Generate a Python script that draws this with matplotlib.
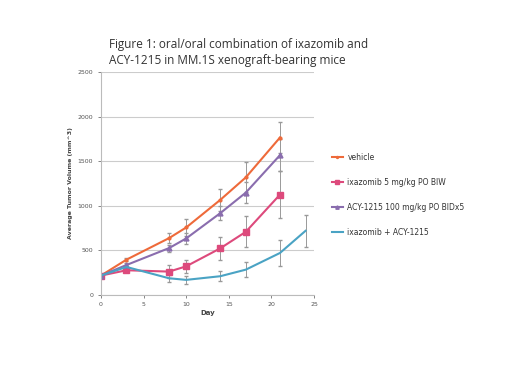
import numpy as np
import matplotlib
matplotlib.use("Agg")
import matplotlib.pyplot as plt

# values (mm^3)
days = [0, 3, 8, 10, 14, 17, 21]
days_combo = [0, 3, 8, 10, 14, 17, 21, 24]

vehicle = [216, 395, 637, 756, 1066, 1319, 1766]
vehicle_err = [15, 20, 60, 90, 120, 170, 170]
ixazomib = [216, 276, 261, 320, 522, 708, 1125]
ixazomib_err = [15, 20, 70, 75, 130, 175, 260]
acy = [216, 335, 525, 633, 917, 1148, 1568]
acy_err = [15, 20, 40, 60, 80, 120, 180]
combo = [216, 313, 186, 168, 209, 283, 470, 719]
combo_err = [15, 20, 40, 45, 55, 85, 145, 180]

labels = ["vehicle", "ixazomib 5 mg/kg PO BIW",
          "ACY-1215 100 mg/kg PO BIDx5", "ixazomib + ACY-1215"]
colors = ["#EE6A3A", "#DD4A7C", "#8A6DAE", "#4AA3C4"]

fig = plt.figure(figsize=(5.2, 3.9), dpi=100)
ax = fig.add_axes([0.194, 0.244, 0.41, 0.571])

series = [(days, vehicle, vehicle_err, "o", 2),
          (days, ixazomib, ixazomib_err, "s", 4),
          (days, acy, acy_err, "^", 3.5),
          (days_combo, combo, combo_err, None, 0)]
handles = []
for (x, y, e, m, ms), lab, c in zip(series, labels, colors):
    eb = ax.errorbar(x, y, yerr=e, color=c, marker=m, markersize=ms, lw=1.5,
                     ecolor="#999999", elinewidth=0.7, capsize=1.5, label=lab)
    handles.append(eb.lines[0])

ax.set_xlim(0, 25)
ax.set_ylim(0, 2500)
ax.set_xticks(range(0, 26, 5))
ax.set_yticks(range(0, 2501, 500))
ax.tick_params(labelsize=4.5, colors="#555555", length=2, width=0.5)
ax.grid(axis="y", color="#cccccc", lw=0.8)
ax.set_axisbelow(True)
for s in ["top", "right"]:
    ax.spines[s].set_visible(False)
for s in ["left", "bottom"]:
    ax.spines[s].set_color("#bbbbbb")
ax.set_xlabel("Day", fontsize=5, fontweight="bold", color="#444444", labelpad=2)
ax.set_ylabel("Average Tumor Volume (mm^3)", fontsize=4.5, fontweight="bold",
              color="#444444", labelpad=3)

fig.text(0.21, 0.835, "Figure 1: oral/oral combination of ixazomib and\n"
         "ACY-1215 in MM.1S xenograft-bearing mice",
         fontsize=8.5, color="#333333", family="Open Sans", linespacing=1.3)

ax.legend(handles, labels, loc="center left", bbox_to_anchor=(1.07, 0.45),
          borderaxespad=0, frameon=False, fontsize=5.5, handlelength=1.4,
          handletextpad=0.6, labelspacing=2.1, labelcolor="#333333",
          markerscale=0.7)

fig.savefig("out.png", dpi=100)
